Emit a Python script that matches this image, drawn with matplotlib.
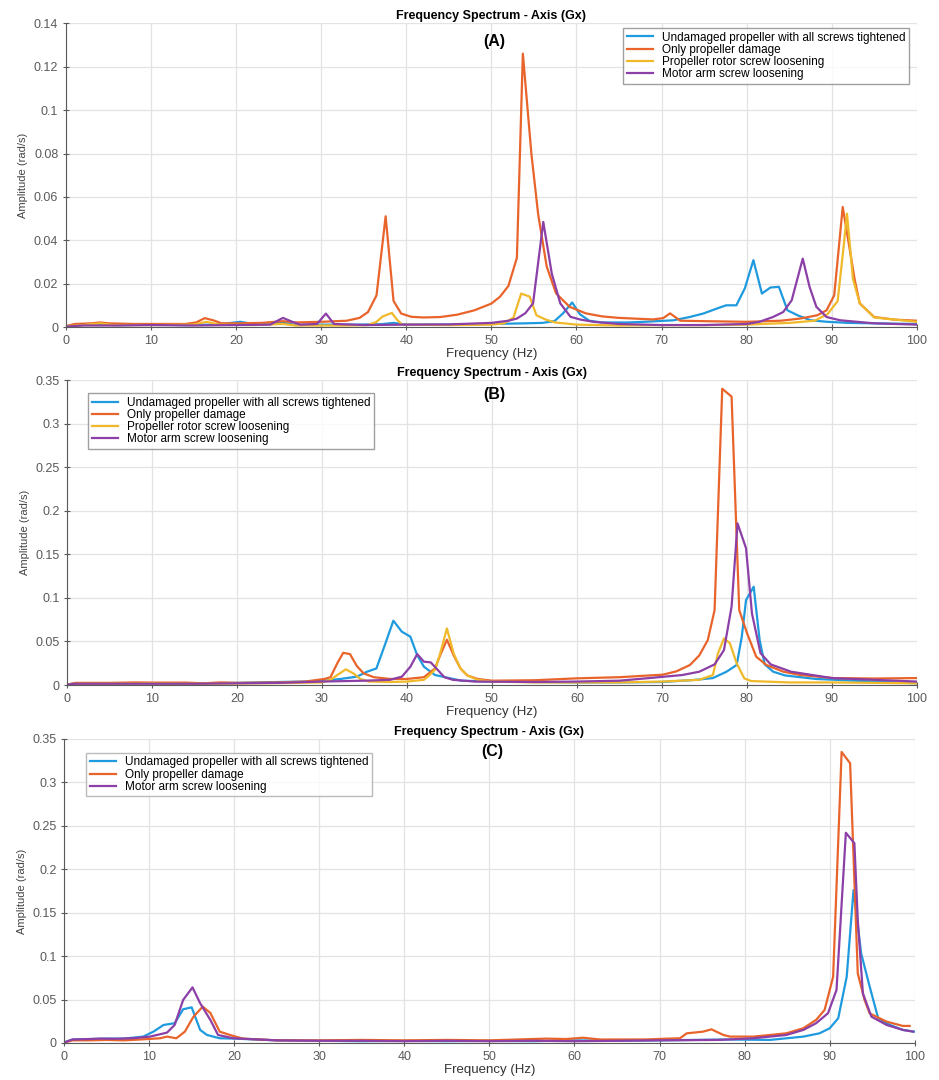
import numpy as np
import matplotlib
matplotlib.use('Agg')
import matplotlib.pyplot as plt
from matplotlib.ticker import FuncFormatter

plt.rcParams['font.family'] = ['Liberation Sans', 'DejaVu Sans']

# colours (MATLAB-like default order)
c_blue = '#1f9ade'
c_orange = '#e8642b'
c_yellow = '#f0b92a'
c_purple = '#8c3fa6'

lbl_blue = 'Undamaged propeller with all screws tightened'
lbl_orange = 'Only propeller damage'
lbl_yellow = 'Propeller rotor screw loosening'
lbl_purple = 'Motor arm screw loosening'

# ---------------- panel A ----------------
a_blue_f = [0, 1, 3, 6, 10, 14, 17, 19, 20.5, 22, 24, 25.5, 27, 30, 34, 37, 38.5, 40, 45, 50, 54, 56,
            57.4, 58.4, 59.5, 60.4, 61.5, 63, 66, 68, 71.4, 73.3, 74.9, 76.5, 77.6, 78.8, 79.8, 80.8,
            81.8, 82.8, 83.8, 84.8, 86, 87.5, 89.5, 92, 95, 100]
a_blue_v = [0.0005, 0.001, 0.0012, 0.001, 0.0012, 0.001, 0.0012, 0.0018, 0.0025, 0.0015, 0.0015, 0.0022,
            0.001, 0.0012, 0.0012, 0.0014, 0.002, 0.0012, 0.0012, 0.0015, 0.0018, 0.002,
            0.0028, 0.0063, 0.0114, 0.006, 0.003, 0.0022, 0.0022, 0.0025, 0.0032, 0.0047, 0.0063, 0.0086,
            0.0101, 0.0101, 0.018, 0.0309, 0.0155, 0.0183, 0.0186, 0.0078, 0.0055, 0.0032, 0.0025,
            0.002, 0.0018, 0.0015]

a_orange_f = [0, 1, 3, 4, 5, 8, 11, 14, 15.3, 16.3, 17.3, 18.3, 20, 23, 25.5, 27, 30, 33, 34.5, 35.5,
              36.5, 37.57, 38.5, 39.4, 40.6, 42, 44, 46, 48, 50, 51, 52, 53, 53.7, 54.7, 55.5, 56.5,
              57.6, 59.2, 61.1, 63, 65, 69, 70.2, 71, 72.2, 75, 80, 84, 86.3, 88.3, 89.4, 90.3, 91.3,
              92.2, 92.7, 93.3, 95, 97.4, 100]
a_orange_v = [0.0005, 0.0015, 0.0018, 0.0022, 0.0018, 0.0015, 0.0015, 0.0015, 0.0022, 0.0042, 0.0032,
              0.0018, 0.0018, 0.002, 0.0028, 0.0022, 0.0025, 0.003, 0.0043, 0.007, 0.0147, 0.0511,
              0.0121, 0.0063, 0.0048, 0.0045, 0.0047, 0.0058, 0.0078, 0.0109, 0.014, 0.019, 0.032,
              0.126, 0.08, 0.052, 0.028, 0.0156, 0.0094, 0.0064, 0.005, 0.0043, 0.0036, 0.0042, 0.0064,
              0.003, 0.0028, 0.0025, 0.003, 0.004, 0.0055, 0.0078, 0.0147, 0.0554, 0.034, 0.022, 0.011,
              0.0047, 0.0035, 0.003]

a_yellow_f = [0, 2, 4, 5.5, 10, 15, 16.5, 18, 22, 25.5, 27, 33, 35.5, 36.5, 37.2, 38.3, 38.9, 39.5, 45,
              50, 51.5, 52.6, 53.5, 54.5, 55.3, 56.4, 57.5, 60, 65, 70, 75, 80, 85, 88, 89.5, 90.7,
              91.4, 91.8, 92.5, 93.3, 95, 97.5, 100]
a_yellow_v = [0.0005, 0.001, 0.0018, 0.001, 0.001, 0.0012, 0.0025, 0.0012, 0.001, 0.0015, 0.0008,
              0.0008, 0.001, 0.0025, 0.0049, 0.0066, 0.0035, 0.0012, 0.001, 0.0012, 0.0018, 0.0045,
              0.0155, 0.0141, 0.0055, 0.0035, 0.0022, 0.0012, 0.0008, 0.001, 0.001, 0.0012, 0.002,
              0.003, 0.006, 0.012, 0.037, 0.0523, 0.0223, 0.011, 0.0045, 0.0035, 0.0025]

a_purple_f = [0, 2, 6, 10, 15, 20, 24, 25.5, 26.6, 27.5, 29.5, 30.55, 31.5, 35, 40, 45, 50, 52, 53, 54,
              54.9, 56.1, 57.1, 58.1, 59.3, 60.5, 62, 65, 70, 75, 80, 81.5, 83.1, 84.3, 85.3, 86.6,
              87.4, 88.2, 89.4, 91, 95, 100]
a_purple_v = [0.0003, 0.0008, 0.0008, 0.001, 0.0008, 0.001, 0.0012, 0.0043, 0.0025, 0.0012, 0.0015,
              0.0063, 0.0015, 0.001, 0.0012, 0.0013, 0.002, 0.003, 0.004, 0.0065, 0.011, 0.0485,
              0.0247, 0.011, 0.0048, 0.0035, 0.0025, 0.0015, 0.001, 0.001, 0.0015, 0.0025, 0.0047,
              0.007, 0.0124, 0.0316, 0.0186, 0.0094, 0.0047, 0.0032, 0.0018, 0.0012]

# ---------------- panel B ----------------
b_blue_f = [0, 1, 5, 10, 15, 20, 25, 28, 30.3, 32.2, 34.1, 35.3, 36.4, 37.4, 38.4, 39.4, 40.4, 41.2,
            42, 43.3, 44.4, 46.4, 50, 55, 60, 65, 70, 74, 76, 77.6, 78.8, 79.4, 79.9, 80.8, 81.5,
            82.1, 83.1, 84.5, 88.1, 95, 100]
b_blue_v = [0.0005, 0.002, 0.002, 0.0022, 0.002, 0.0025, 0.0035, 0.004, 0.005, 0.007, 0.0096, 0.0153,
            0.019, 0.046, 0.0738, 0.0612, 0.0555, 0.0344, 0.021, 0.0115, 0.0092, 0.005, 0.004, 0.0035,
            0.003, 0.003, 0.0035, 0.006, 0.008, 0.0153, 0.023, 0.0555, 0.0975, 0.1128, 0.0516,
            0.0237, 0.0153, 0.011, 0.007, 0.004, 0.002]

b_orange_f = [0, 1, 5, 8, 10, 14, 16, 18, 20, 25, 28, 30.3, 31, 31.8, 32.5, 33.3, 34.1, 34.9, 36.1,
              38, 40, 42, 43.3, 43.9, 44.7, 45.5, 46.3, 47.1, 48.3, 50, 55, 60, 65, 70.1, 71.7, 73.3,
              74.4, 75.4, 76.2, 77.1, 78.2, 79.1, 80, 81.1, 82.3, 84.3, 86.3, 90.2, 95, 100]
b_orange_v = [0.0005, 0.0025, 0.0025, 0.003, 0.0028, 0.0028, 0.002, 0.003, 0.0025, 0.003, 0.004,
              0.007, 0.009, 0.025, 0.037, 0.0355, 0.0218, 0.0134, 0.009, 0.007, 0.007, 0.009, 0.019,
              0.034, 0.052, 0.034, 0.019, 0.011, 0.007, 0.005, 0.0055, 0.0077, 0.009, 0.0119, 0.0157,
              0.023, 0.034, 0.0516, 0.086, 0.340, 0.331, 0.086, 0.06, 0.0325, 0.023, 0.0153, 0.0115,
              0.008, 0.0075, 0.008]

b_yellow_f = [0, 1, 5, 10, 15, 20, 25, 30, 31, 31.8, 32.8, 33.7, 34.5, 35.5, 38, 40, 42, 42.5, 43.3,
              43.9, 44.7, 45.5, 46.3, 47.1, 48.3, 50, 55, 60, 65, 70, 74.4, 76, 76.6, 77.3, 78, 78.8,
              79.7, 80.5, 85, 90, 95, 100]
b_yellow_v = [0.0005, 0.0015, 0.0015, 0.0018, 0.0015, 0.0018, 0.0022, 0.003, 0.006, 0.0115, 0.018,
              0.0134, 0.007, 0.004, 0.0035, 0.004, 0.006, 0.01, 0.0176, 0.036, 0.065, 0.036, 0.019,
              0.011, 0.006, 0.004, 0.003, 0.003, 0.003, 0.004, 0.006, 0.0115, 0.0364, 0.0535, 0.048,
              0.025, 0.0076, 0.0046, 0.003, 0.003, 0.0025, 0.002]

b_purple_f = [0, 1, 5, 10, 15, 20, 25, 30, 35, 38, 39.4, 40.4, 41.2, 42, 42.8, 43.6, 44.4, 45.4, 48,
              55, 60, 65, 68.5, 72.4, 74.4, 76.2, 77.3, 78.2, 78.9, 79.9, 80.6, 81.6, 82.8, 85.2, 90,
              95, 100]
b_purple_v = [0.0005, 0.0015, 0.0015, 0.0015, 0.0015, 0.002, 0.0025, 0.004, 0.005, 0.006, 0.0096,
              0.021, 0.0355, 0.0268, 0.026, 0.0176, 0.009, 0.006, 0.004, 0.0035, 0.004, 0.005, 0.008,
              0.0115, 0.0153, 0.0237, 0.04, 0.09, 0.1855, 0.157, 0.082, 0.0367, 0.0237, 0.0153, 0.008,
              0.006, 0.004]

# ---------------- panel C ----------------
c_blue_f = [0, 1, 3, 5, 7, 8.5, 9.3, 10.5, 11.7, 13.0, 14.0, 15.0, 16.0, 16.8, 18.3, 20, 25, 30, 35,
            40, 45, 50, 55, 60, 65, 70, 74, 78, 83, 86.9, 88.8, 90.0, 91.0, 92.0, 92.8, 93.7, 94.7,
            95.7, 97.1, 98.6, 100]
c_blue_v = [0.0005, 0.004, 0.0045, 0.005, 0.005, 0.0065, 0.0073, 0.013, 0.0207, 0.0227, 0.0388,
            0.041, 0.015, 0.0092, 0.0054, 0.005, 0.003, 0.0025, 0.002, 0.0025, 0.002, 0.0025, 0.002,
            0.003, 0.0025, 0.003, 0.0035, 0.004, 0.0035, 0.0073, 0.0111, 0.0169, 0.0284, 0.0763,
            0.176, 0.103, 0.0648, 0.0284, 0.0207, 0.015, 0.013]

c_orange_f = [0, 1, 3, 5, 7, 9, 11.3, 12.1, 13.2, 14.2, 15.2, 16.3, 17.2, 18.3, 19.5, 21, 25, 30, 35,
              40, 45, 50, 56.7, 59, 61, 63, 68.3, 71, 72.4, 73.2, 75.1, 76.1, 77.5, 78.3, 81, 83,
              84.9, 86.9, 88.4, 89.4, 90.4, 91.4, 92.4, 93.3, 94.1, 94.7, 96.7, 98.6, 99.4]
c_orange_v = [0.0005, 0.003, 0.003, 0.0035, 0.003, 0.004, 0.0054, 0.0073, 0.0054, 0.013, 0.030,
              0.0418, 0.0345, 0.013, 0.0092, 0.005, 0.003, 0.003, 0.0035, 0.003, 0.0035, 0.003, 0.005,
              0.0045, 0.006, 0.004, 0.004, 0.005, 0.0054, 0.0111, 0.013, 0.0157, 0.0092, 0.0073,
              0.0073, 0.0092, 0.0111, 0.0169, 0.0265, 0.038, 0.076, 0.335, 0.322, 0.080, 0.0495,
              0.034, 0.0245, 0.0196, 0.0196]

c_purple_f = [0, 1, 3, 4.2, 6, 8.1, 10.1, 12.1, 13.0, 14.0, 15.1, 16.0, 17.2, 18.1, 19.9, 25, 30, 35,
              40, 45, 50, 55, 60, 65, 70, 77.1, 81, 84.9, 86.9, 88.4, 89.8, 90.8, 91.9, 92.9, 93.3,
              93.9, 94.9, 96.7, 98.6, 99.8]
c_purple_v = [0.0005, 0.004, 0.0045, 0.005, 0.0048, 0.0054, 0.0073, 0.0119, 0.0207, 0.0495, 0.064,
              0.0457, 0.0265, 0.0092, 0.0054, 0.003, 0.0025, 0.0025, 0.002, 0.0025, 0.002, 0.0025,
              0.002, 0.0025, 0.003, 0.0035, 0.0054, 0.0092, 0.015, 0.0227, 0.0342, 0.061, 0.242, 0.23,
              0.1416, 0.0572, 0.0303, 0.0207, 0.015, 0.013]


def fmt(v, pos):
    return '%g' % round(v, 3)


def style_axes(ax, ymax, ystep, tag, tag_y):
    ax.set_xlim(0, 100)
    ax.set_ylim(0, ymax)
    ax.set_xticks(np.arange(0, 101, 10))
    ax.set_yticks(np.arange(0, ymax + ystep / 2, ystep))
    ax.yaxis.set_major_formatter(FuncFormatter(fmt))
    ax.grid(True, color='#e3e3e3', linewidth=0.9)
    ax.set_axisbelow(True)
    for s in ['top', 'right']:
        ax.spines[s].set_visible(False)
    for s in ['left', 'bottom']:
        ax.spines[s].set_color('#5a5a5a')
        ax.spines[s].set_linewidth(0.8)
    ax.tick_params(direction='inout', length=5, width=0.8, colors='#5a5a5a', labelsize=9, pad=3)
    ax.set_title('Frequency Spectrum - Axis (Gx)', fontsize=9, fontweight='bold', pad=3)
    ax.set_xlabel('Frequency (Hz)', fontsize=9.5, color='#333333', labelpad=1)
    ax.set_ylabel('Amplitude (rad/s)', fontsize=8, color='#444444', labelpad=4)
    ax.text(50.3, tag_y, tag, fontsize=11.5, fontweight='bold', ha='center', va='center')


def add_legend(ax, loc, anchor, edge):
    ax.legend(loc=loc, bbox_to_anchor=anchor, fontsize=8.5, frameon=True, fancybox=False,
              edgecolor=edge, handlelength=2.2, labelspacing=0.02, borderpad=0.3,
              handletextpad=0.8, borderaxespad=0)


fig = plt.figure(figsize=(9.39, 10.8), dpi=100)
lw = 1.6

ax1 = fig.add_axes([0.0703, 0.697, 0.906, 0.2815])
ax1.plot(a_blue_f, a_blue_v, color=c_blue, lw=lw, label=lbl_blue)
ax1.plot(a_orange_f, a_orange_v, color=c_orange, lw=lw, label=lbl_orange)
ax1.plot(a_yellow_f, a_yellow_v, color=c_yellow, lw=lw, label=lbl_yellow)
ax1.plot(a_purple_f, a_purple_v, color=c_purple, lw=lw, label=lbl_purple)
style_axes(ax1, 0.14, 0.02, '(A)', 0.1315)
add_legend(ax1, 'upper right', (0.991, 0.984), '#888888')

ax2 = fig.add_axes([0.0714, 0.3657, 0.905, 0.2824])
ax2.plot(b_blue_f, b_blue_v, color=c_blue, lw=lw, label=lbl_blue)
ax2.plot(b_orange_f, b_orange_v, color=c_orange, lw=lw, label=lbl_orange)
ax2.plot(b_yellow_f, b_yellow_v, color=c_yellow, lw=lw, label=lbl_yellow)
ax2.plot(b_purple_f, b_purple_v, color=c_purple, lw=lw, label=lbl_purple)
style_axes(ax2, 0.35, 0.05, '(B)', 0.333)
add_legend(ax2, 'upper left', (0.025, 0.957), '#888888')

ax3 = fig.add_axes([0.0682, 0.0343, 0.906, 0.2815])
ax3.plot(c_blue_f, c_blue_v, color=c_blue, lw=lw, label=lbl_blue)
ax3.plot(c_orange_f, c_orange_v, color=c_orange, lw=lw, label=lbl_orange)
ax3.plot(c_purple_f, c_purple_v, color=c_purple, lw=lw, label=lbl_purple)
style_axes(ax3, 0.35, 0.05, '(C)', 0.335)
add_legend(ax3, 'upper left', (0.026, 0.954), '#aaaaaa')

fig.savefig('out.png', dpi=100)
